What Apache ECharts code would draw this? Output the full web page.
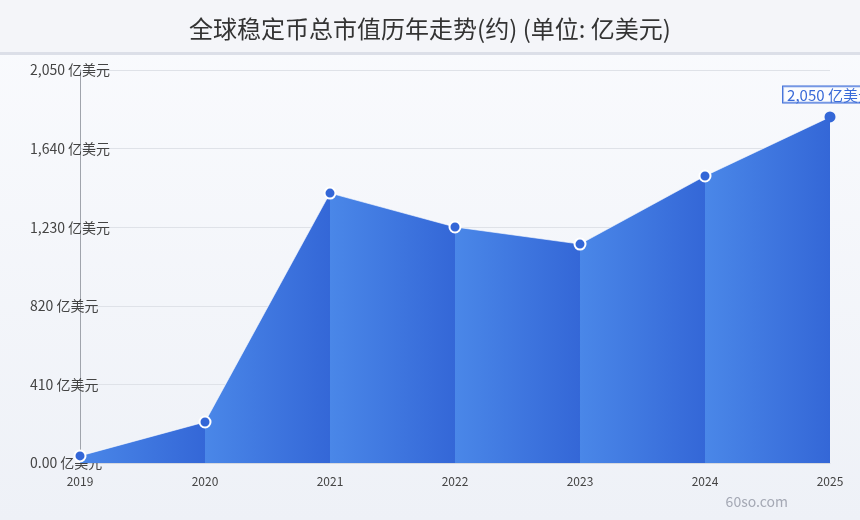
<!DOCTYPE html>
<html>
<head>
<meta charset="utf-8">
<script src="https://cdn.jsdelivr.net/npm/echarts@6/dist/echarts.min.js"></script>
<style>
html,body{margin:0;padding:0;width:860px;height:520px;overflow:hidden;}
#main{width:860px;height:520px;background:linear-gradient(to bottom,#fafbfe 0%,#eef1f7 100%);}
</style>
</head>
<body>
<div id="main"></div>
<script>
const titleText = '全球稳定币总市值历年走势(约) (单位: 亿美元)';
const years = ['2019','2020','2021','2022','2023','2024','2025'];
const values = [37, 214, 1408, 1231, 1142, 1497, 1805];
const yTickLabels = ['0.00 亿美元','410 亿美元','820 亿美元','1,230 亿美元','1,640 亿美元','2,050 亿美元'];
const lastLabel = '2,050 亿美元';
const watermark = '60so.com';

const FONT = 'Noto Sans CJK SC';
const chart = echarts.init(document.getElementById('main'), null, {renderer:'canvas'});

const segData = [];
for (let i = 0; i < years.length - 1; i++) {
  segData.push([i, values[i], i + 1, values[i + 1]]);
}

const lineData = values.map((v, i) => {
  if (i === values.length - 1) {
    return {
      value: v,
      itemStyle: {borderWidth: 0},
      label: {
        show: true, position: 'top', distance: 9,
        formatter: lastLabel,
        color: '#3a6bd8', fontSize: 15, fontFamily: FONT,
        borderColor: '#3a6bd8', borderWidth: 1, padding: [1, 4, 0, 4],
        backgroundColor: 'rgba(255,255,255,0.6)'
      }
    };
  }
  return v;
});

chart.setOption({
  animation: false,
  textStyle: {fontFamily: FONT},
  graphic: [
    {type: 'rect', left: 0, top: 0, shape: {width: 860, height: 52}, style: {fill: '#f4f5f9'}, z: -10},
    {type: 'rect', left: 0, top: 52, shape: {width: 860, height: 3}, style: {fill: '#dcdfe8'}, z: -10},
    {type: 'text', right: 72, top: 495, style: {text: watermark, fill: '#a4a8b4', fontSize: 14, fontFamily: FONT}}
  ],
  title: {
    text: titleText, left: 'center', top: 12,
    textStyle: {fontSize: 24, fontWeight: 'normal', color: '#333', fontFamily: FONT}
  },
  grid: {left: 80, right: 30, top: 70, bottom: 57, containLabel: false},
  xAxis: {
    type: 'category', data: years, boundaryGap: false,
    axisLine: {show: true, lineStyle: {color: '#d5d8de'}},
    axisTick: {show: false},
    axisLabel: {color: '#444', fontSize: 12, margin: 12, fontFamily: FONT},
    splitLine: {show: false}
  },
  yAxis: {
    type: 'value', min: 0, max: 2050, interval: 410,
    axisLine: {show: true, lineStyle: {color: '#a0a4ac'}},
    axisTick: {show: false},
    axisLabel: {
      color: '#444', fontSize: 14, fontFamily: FONT, align: 'left', margin: 50,
      formatter: (v) => yTickLabels[Math.round(v / 410)]
    },
    splitLine: {show: true, lineStyle: {color: '#dfe2e8'}}
  },
  series: [
    {
      type: 'custom',
      data: segData,
      encode: {x: [0, 2], y: [1, 3]},
      z: 1,
      renderItem: function (params, api) {
        const p0 = api.coord([api.value(0), api.value(1)]);
        const p1 = api.coord([api.value(2), api.value(3)]);
        const b0 = api.coord([api.value(0), 0]);
        const b1 = api.coord([api.value(2), 0]);
        return {
          type: 'polygon',
          shape: {points: [p0, p1, b1, b0]},
          style: {
            fill: new echarts.graphic.LinearGradient(0, 0, 1, 0, [
              {offset: 0, color: '#4a87e8'},
              {offset: 1, color: '#3467d7'}
            ])
          }
        };
      }
    },
    {
      type: 'line',
      data: lineData,
      z: 3,
      symbol: 'circle',
      symbolSize: 11,
      lineStyle: {color: 'rgba(255,255,255,0.6)', width: 1},
      itemStyle: {color: '#3467d7', borderColor: '#fff', borderWidth: 2}
    }
  ]
});
</script>
</body>
</html>
